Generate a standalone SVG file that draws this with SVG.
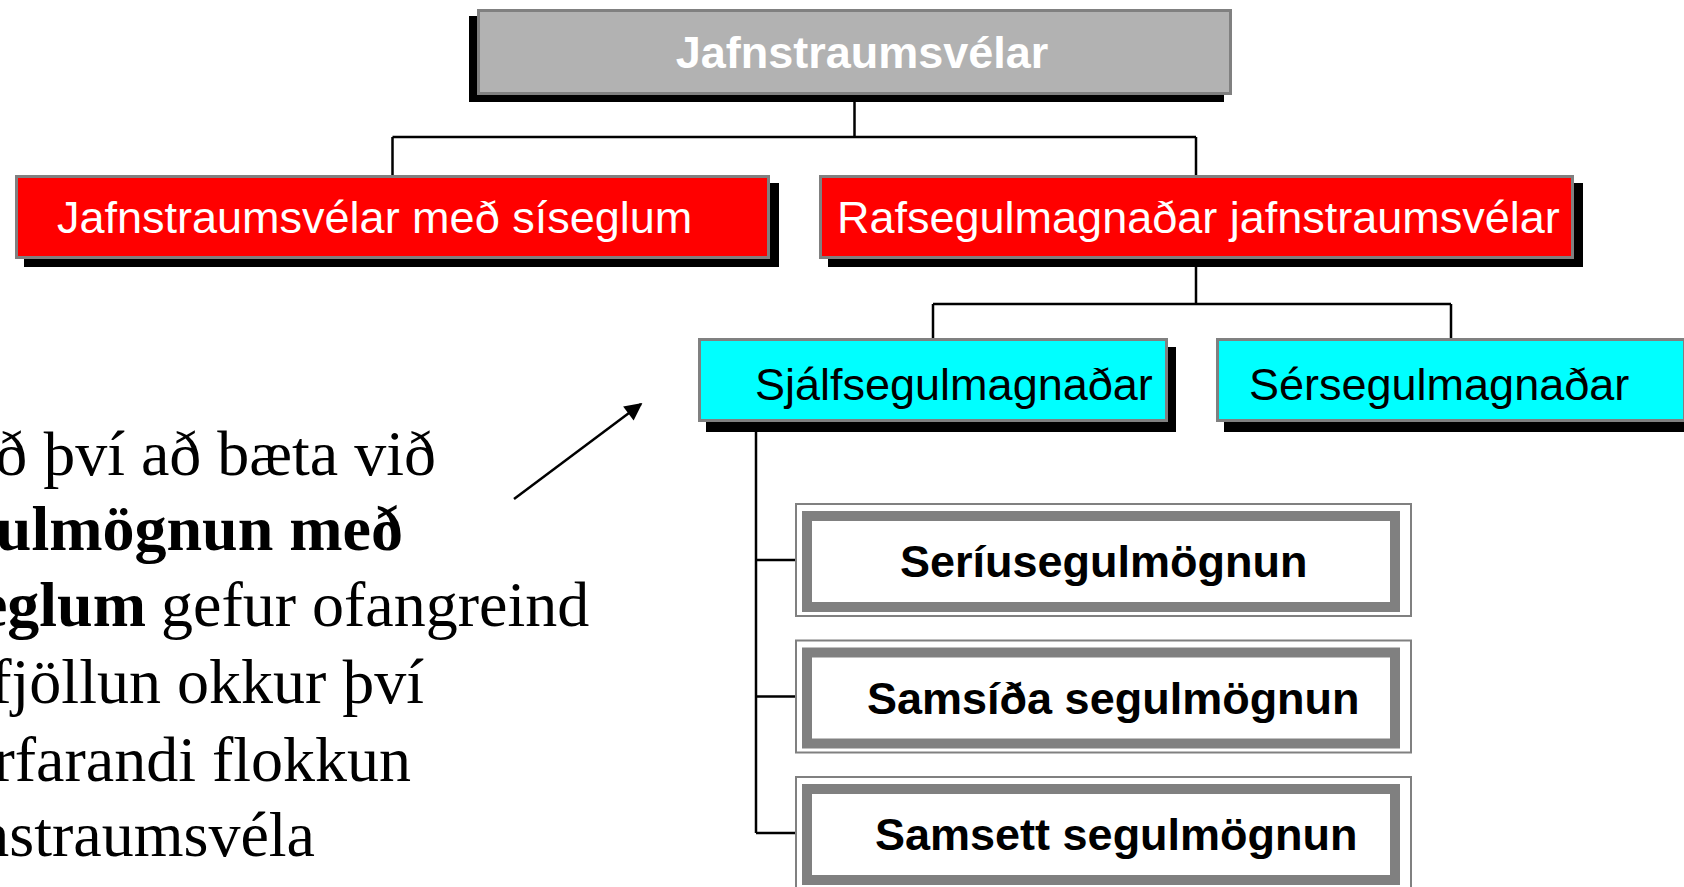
<svg xmlns="http://www.w3.org/2000/svg" width="1684" height="887" viewBox="0 0 1684 887">
  <defs>
    <marker id="arrowhead" viewBox="0 0 10 10" refX="9" refY="5" markerWidth="8" markerHeight="7" markerUnits="strokeWidth" orient="auto">
      <path d="M0,0 L10,5 L0,10 Z" fill="#000"/>
    </marker>
  </defs>
  <style>
    .shadow { fill: #000; }
    .box { stroke: #808080; stroke-width: 3; }
    .grey { fill: #b2b2b2; }
    .red { fill: #ff0000; }
    .cyan { fill: #00ffff; }
    .frame-outer { fill: #fff; stroke: #808080; stroke-width: 2; }
    .frame-inner { fill: #fff; stroke: #808080; stroke-width: 10; }
    .sans { font-family: "Liberation Sans", Arial, sans-serif; font-size: 45px; }
    .serif { font-family: "Liberation Serif", "Times New Roman", serif; font-size: 64px; fill: #000; }
    .link { fill: none; stroke: #000; stroke-width: 2.5; }
  </style>
  <rect width="1684" height="887" fill="#fff"/>

  <!-- tree connectors -->
  <g id="connectors" class="link">
    <path d="M854.5,95 V137 M392.5,137 H1196 M392.5,137 V175 M1196,137 V175"/>
    <path d="M1196,259 V304 M933,304 H1451 M933,304 V338 M1451,304 V338"/>
    <path d="M756,422 V833 M756,560 H795 M756,696.5 H795 M756,833 H795"/>
    <line x1="514" y1="499" x2="641" y2="404" marker-end="url(#arrowhead)"/>
  </g>

  <!-- root -->
  <g id="root">
    <rect class="shadow" x="469" y="16" width="755" height="86"/>
    <rect class="box grey" x="478.5" y="10.5" width="752" height="83"/>
    <text class="sans" x="862" y="68" text-anchor="middle" font-weight="bold" fill="#fff">Jafnstraumsvélar</text>
  </g>

  <!-- second level -->
  <g id="permanent-magnet">
    <rect class="shadow" x="24" y="183" width="755" height="84"/>
    <rect class="box red" x="16.5" y="176.5" width="752" height="81"/>
    <text class="sans" x="57" y="233" fill="#fff">Jafnstraumsvélar með síseglum</text>
  </g>
  <g id="electromagnetic">
    <rect class="shadow" x="828" y="183" width="755" height="84"/>
    <rect class="box red" x="820.5" y="176.5" width="752" height="81"/>
    <text class="sans" x="837" y="233" fill="#fff">Rafsegulmagnaðar jafnstraumsvélar</text>
  </g>

  <!-- third level -->
  <g id="self-excited">
    <rect class="shadow" x="706" y="347" width="470" height="85"/>
    <rect class="box cyan" x="699.5" y="339.5" width="467" height="81"/>
    <text class="sans" x="755" y="400" fill="#000">Sjálfsegulmagnaðar</text>
  </g>
  <g id="separately-excited">
    <rect class="shadow" x="1224" y="347" width="470" height="85"/>
    <rect class="box cyan" x="1217.5" y="339.5" width="467" height="81"/>
    <text class="sans" x="1249" y="400" fill="#000">Sérsegulmagnaðar</text>
  </g>

  <!-- excitation types -->
  <g id="series">
    <rect class="frame-outer" x="796" y="504" width="615" height="112"/>
    <rect class="frame-inner" x="807" y="516" width="588" height="91"/>
    <text class="sans" x="900" y="577" font-weight="bold" fill="#000">Seríusegulmögnun</text>
  </g>
  <g id="shunt">
    <rect class="frame-outer" x="796" y="640.5" width="615" height="112"/>
    <rect class="frame-inner" x="807" y="652.5" width="588" height="91"/>
    <text class="sans" x="867" y="713.5" font-weight="bold" fill="#000">Samsíða segulmögnun</text>
  </g>
  <g id="compound">
    <rect class="frame-outer" x="796" y="777" width="615" height="112"/>
    <rect class="frame-inner" x="807" y="789" width="588" height="91"/>
    <text class="sans" x="875" y="850" font-weight="bold" fill="#000">Samsett segulmögnun</text>
  </g>

  <!-- explanatory paragraph -->
  <g id="note" class="serif">
    <text x="436" y="475" text-anchor="end">ð því að bæta við</text>
    <text x="403" y="550" text-anchor="end" font-weight="bold">ulmögnun með</text>
    <text x="146" y="626" text-anchor="end" font-weight="bold">eglum</text>
    <text x="161" y="626">gefur ofangreind</text>
    <text x="424" y="703" text-anchor="end">fjöllun okkur því</text>
    <text x="411" y="781" text-anchor="end">rfarandi flokkun</text>
    <text x="315" y="856" text-anchor="end">nstraumsvéla</text>
  </g>
</svg>
